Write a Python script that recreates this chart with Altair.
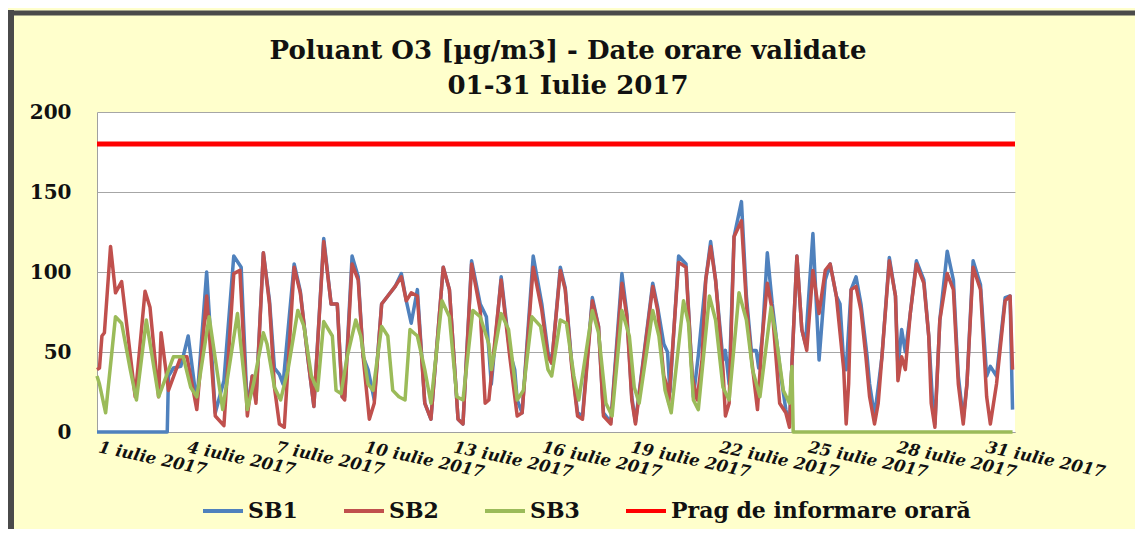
import altair as alt
import pandas as pd

# ---- data (hour of month, value in ug/m3) ----
sb1_h = [0, 57, 58, 62, 68, 74, 81, 89, 96, 103, 111, 117, 122, 126, 129, 135, 140, 144, 148, 151,
         160, 165, 171, 176, 184, 190, 195, 199, 201, 207, 212, 216, 220, 225, 231, 236, 242, 247,
         251, 255, 260, 266, 271, 281, 286, 293, 297, 304, 311, 316, 320, 328, 335, 339, 341, 345,
         354, 361, 366, 369, 376, 380, 385, 390, 394, 402, 407, 411, 417, 426, 430, 434, 437, 451,
         455, 460, 463, 465, 472, 478, 484, 488, 494, 498, 502, 508, 510, 513, 517, 523, 527, 531,
         535, 537, 540, 544, 548, 555, 559, 562, 564, 568, 572, 575, 581, 586, 591, 595, 600, 603,
         606, 608, 612, 616, 620, 625, 627, 631, 634, 637, 643, 648, 650, 653, 656, 660, 665, 671,
         675, 678, 680, 684, 690, 695, 699, 703, 706, 711, 717, 722, 725, 730, 737, 741, 743]
sb1_v = [0, 0, 35, 40, 41, 60, 18, 100, 12, 32, 110, 103, 14, 35, 20, 112, 82, 40, 36, 30,
         105, 88, 47, 16, 121, 80, 80, 22, 22, 110, 97, 47, 39, 20, 80, 85, 91, 99,
         82, 68, 89, 18, 8, 103, 89, 8, 5, 107, 80, 72, 30, 97, 50, 39, 20, 12,
         110, 80, 50, 43, 103, 90, 45, 12, 10, 84, 66, 12, 6, 99, 74, 22, 6, 93,
         78, 55, 50, 25, 110, 105, 22, 48, 95, 119, 95, 45, 51, 30, 122, 144, 85, 51,
         51, 40, 60, 112, 80, 35, 14, 5, 43, 110, 64, 55, 124, 45, 95, 105, 85, 80,
         43, 39, 89, 97, 80, 47, 30, 10, 28, 47, 109, 85, 40, 64, 50, 74, 107, 95,
         60, 20, 5, 70, 113, 95, 35, 8, 30, 107, 92, 35, 41, 35, 84, 85, 14]

sb2_h = [0, 2, 4, 6, 11, 15, 20, 31, 39, 43, 50, 52, 58, 68, 73, 81, 89, 96, 103, 111, 116,
         122, 126, 129, 135, 140, 144, 148, 152, 160, 165, 171, 176, 184, 190, 195, 199, 201,
         207, 212, 216, 221, 225, 231, 236, 242, 247, 251, 255, 260, 266, 271, 281, 286, 293,
         297, 304, 311, 315, 318, 328, 335, 341, 345, 354, 361, 366, 369, 376, 380, 385, 390,
         394, 402, 407, 411, 417, 426, 430, 434, 437, 451, 455, 460, 463, 464, 472, 478, 483,
         487, 491, 494, 498, 502, 508, 510, 513, 517, 523, 527, 531, 536, 540, 544, 548, 554,
         559, 562, 564, 568, 572, 576, 581, 586, 591, 595, 600, 606, 608, 610, 612, 616, 620,
         624, 627, 631, 634, 637, 643, 648, 650, 653, 656, 660, 665, 671, 675, 677, 680, 684,
         690, 695, 699, 703, 706, 711, 717, 722, 725, 730, 737, 741, 743]
sb2_v = [39, 40, 60, 62, 116, 87, 94, 22, 88, 78, 22, 62, 26, 47, 47, 14, 85, 10, 4, 99, 101,
         10, 35, 18, 112, 80, 28, 5, 3, 103, 87, 47, 16, 119, 80, 80, 22, 20,
         105, 95, 47, 8, 18, 80, 85, 91, 97, 82, 87, 85, 18, 8, 103, 89, 8,
         5, 105, 76, 18, 20, 95, 47, 10, 12, 103, 76, 47, 43, 101, 89, 43, 10,
         8, 82, 66, 10, 5, 93, 72, 20, 5, 91, 76, 35, 28, 18, 106, 103, 35,
         20, 45, 95, 116, 95, 39, 10, 18, 122, 132, 80, 47, 14, 60, 93, 76, 18,
         12, 3, 43, 110, 64, 51, 101, 74, 101, 105, 85, 39, 5, 30, 89, 91, 76,
         47, 22, 5, 18, 47, 107, 85, 32, 47, 39, 74, 105, 93, 60, 18, 3, 70,
         99, 89, 30, 5, 30, 103, 89, 22, 5, 30, 82, 85, 39]

sb3_h = [0, 2, 7, 15, 20, 27, 32, 40, 50, 62, 70, 76, 81, 91, 102, 114, 120, 122, 127, 135,
         138, 144, 149, 155, 163, 168, 174, 179, 184, 191, 194, 198, 203, 210, 214, 220, 224,
         231, 236, 240, 245, 250, 254, 260, 266, 271, 280, 286, 292, 297, 305, 311, 318, 320,
         328, 334, 341, 346, 353, 360, 366, 369, 376, 381, 387, 391, 402, 407, 413, 418, 426,
         432, 436, 440, 451, 456, 461, 466, 476, 480, 484, 488, 497, 502, 508, 513, 521, 527,
         532, 538, 547, 551, 557, 562, 564, 565, 743]
sb3_v = [35, 30, 12, 72, 68, 39, 20, 70, 22, 47, 47, 28, 22, 72, 14, 74, 30, 14, 30, 62,
         55, 28, 20, 39, 76, 66, 35, 26, 69, 60, 26, 24, 47, 70, 60, 30, 26,
         66, 60, 26, 22, 20, 64, 60, 39, 18, 82, 72, 22, 20, 76, 72, 55, 39,
         74, 64, 20, 26, 72, 66, 39, 35, 70, 68, 35, 20, 76, 62, 18, 10, 76,
         60, 28, 18, 76, 60, 26, 12, 82, 68, 20, 14, 85, 70, 28, 20, 87, 70,
         39, 22, 78, 60, 26, 18, 41, 0, 0]

prag_h = [0, 745]
prag_v = [180, 180]

series_names = ["SB1", "SB2", "SB3", "Prag de informare orară"]
series_colors = ["#4F81BD", "#C0504D", "#9BBB59", "#FF0000"]

tick_hours = [0, 72, 144, 216, 288, 360, 432, 504, 576, 648, 720]
tick_labels = ["1 iulie 2017", "4 iulie 2017", "7 iulie 2017", "10 iulie 2017", "13 iulie 2017",
               "16 iulie 2017", "19 iulie 2017", "22 iulie 2017", "25 iulie 2017",
               "28 iulie 2017", "31 iulie 2017"]
y_ticks = [0, 50, 100, 150, 200]

title_lines = ["Poluant O3 [µg/m3] - Date orare validate", "01-31 Iulie 2017"]

FONT = "DejaVu Serif"


def frame(h, v, name):
    return pd.DataFrame({"ora": h, "val": v, "serie": name})


label_expr = "[" + ",".join("'" + t + "'" for t in tick_labels) + "][round(datum.value / 72)]"

x_enc = alt.X(
    "ora:Q",
    scale=alt.Scale(domain=[0, 745], nice=False, zero=False),
    axis=alt.Axis(
        values=tick_hours, labelExpr=label_expr, grid=False, ticks=False, title=None,
        labelAngle=12, labelAlign="left", labelBaseline="top", labelPadding=7,
        labelOffset=3, labelFont=FONT, labelFontSize=16.5, labelFontWeight="bold",
        labelFontStyle="italic", labelColor="#111111", labelOverlap=False,
        labelBound=False, labelFlush=False, domainColor="#A0A0A0", labelLimit=0,
    ),
)
y_enc = alt.Y(
    "val:Q",
    scale=alt.Scale(domain=[0, 200], nice=False),
    axis=alt.Axis(
        values=y_ticks, grid=True, gridColor="#A6A6A6", gridWidth=1, ticks=False,
        title=None, labelFont=FONT, labelFontSize=20, labelFontWeight="bold",
        labelColor="#111111", labelPadding=26, domainColor="#A0A0A0",
    ),
)
color_enc = alt.Color(
    "serie:N",
    scale=alt.Scale(domain=series_names, range=series_colors),
    legend=alt.Legend(
        orient="none", legendX=104, legendY=377, direction="horizontal", title=None,
        symbolType="stroke", symbolStrokeWidth=4, symbolSize=1600,
        labelFont=FONT, labelFontSize=22, labelFontWeight="bold", labelColor="#111111",
        labelLimit=500, columnPadding=38, labelOffset=3,
    ),
)


def line(df, width):
    return alt.Chart(df).mark_line(strokeWidth=width, strokeJoin="round").encode(
        x=x_enc, y=y_enc, color=color_enc
    )


l1 = line(frame(sb1_h, sb1_v, "SB1"), 3.5)
l2 = line(frame(sb2_h, sb2_v, "SB2"), 3.5)
l3 = line(frame(sb3_h, sb3_v, "SB3"), 3.5)
l4 = line(frame(prag_h, prag_v, "Prag de informare orară"), 5)

deco = pd.DataFrame({"k": [0]})
frame_left = alt.Chart(deco).mark_rule(color="#4a4a4a", strokeWidth=6).encode(
    x=alt.value(-86), y=alt.value(-102), y2=alt.value(420)
)
frame_top = alt.Chart(deco).mark_rule(color="#4a4a4a", strokeWidth=5).encode(
    x=alt.value(-89), x2=alt.value(1040), y=alt.value(-99)
)

chart = (
    alt.layer(l1, l2, l3, l4, frame_left, frame_top)
    .properties(
        width=918,
        height=320,
        autosize=alt.AutoSizeParams(type="none"),
        padding={"left": 89, "top": 104, "right": 120, "bottom": 97},
        title=alt.TitleParams(
            title_lines, font=FONT, fontSize=26, fontWeight="bold", color="#111111",
            anchor="middle", offset=-113, lineHeight=35, dx=12, baseline="alphabetic",
        ),
    )
    .configure(background="#FFFFCC")
    .configure_view(fill="white", stroke=None)
)

chart.save("out.html", embed_options={"renderer": "svg", "actions": False})
